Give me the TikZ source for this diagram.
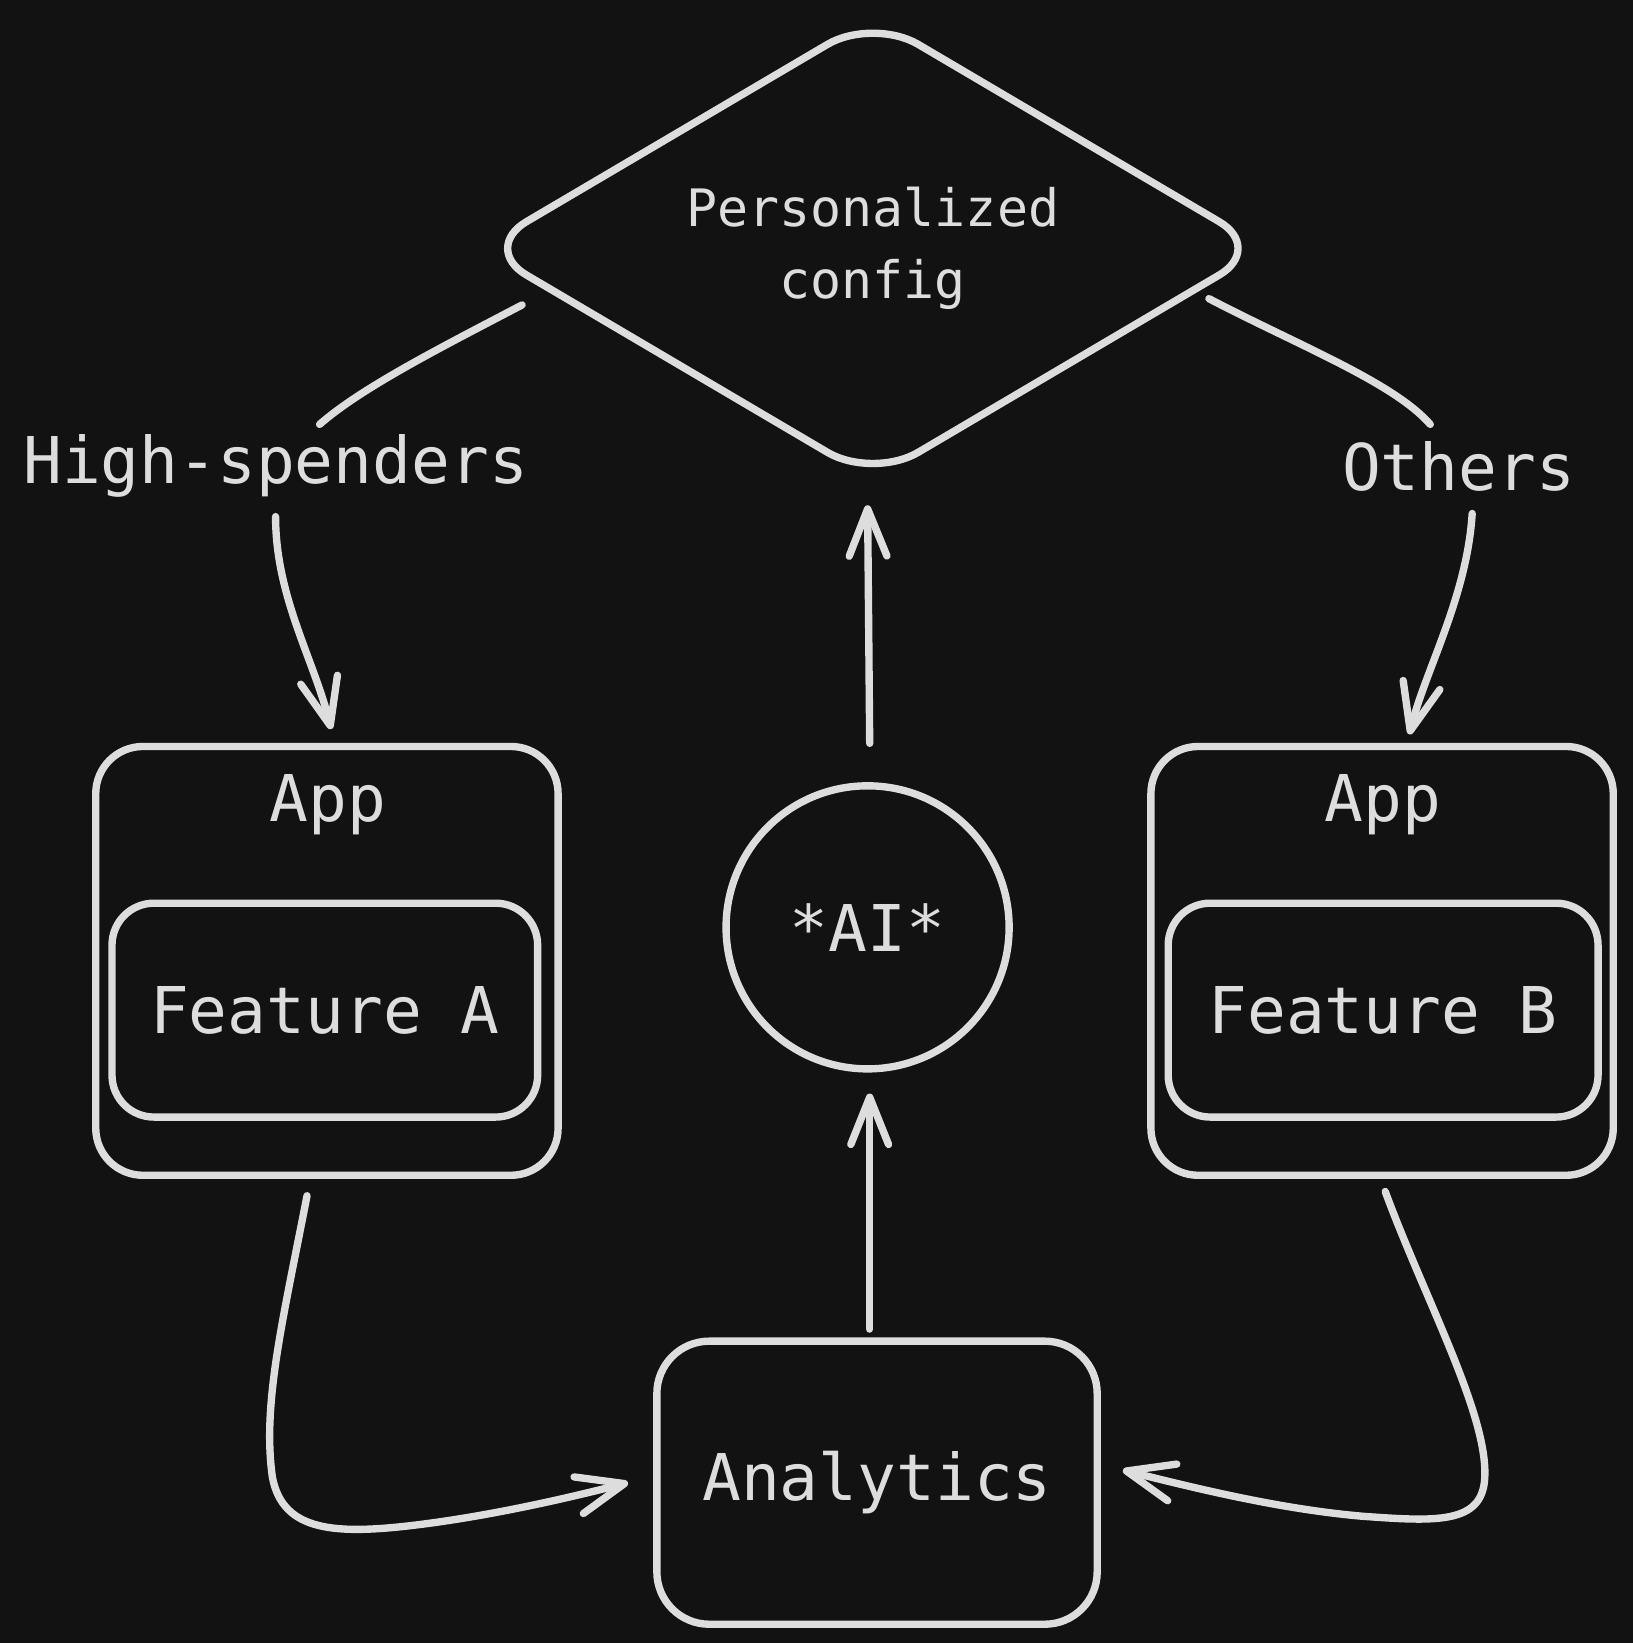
\documentclass[tikz,border=0pt]{standalone}
\usepackage{fontspec}
\usetikzlibrary{shapes.geometric,arrows.meta,calc}
\newfontfamily\handfont{DejaVu Sans Mono}
\definecolor{bg}{HTML}{121212}
\definecolor{ink}{HTML}{DDDDDD}
\tikzset{
  box/.style={draw=ink, line width=2pt, rounded corners=0.45cm},
  txt/.style={text=ink, font=\handfont\fontsize{17.5}{21}\selectfont},
  arr/.style={draw=ink, line width=2pt, line cap=round,
    -{Straight Barb[length=0.45cm,width=0.36cm,round]}},
}
\begin{document}
\begin{tikzpicture}[x=0.01cm, y=-0.01cm]
\fill[bg] (0,0) rectangle (1558,1568);

% decision
\node[draw=ink, line width=2pt, diamond, aspect=1.8, rounded corners=0.5cm,
  minimum width=7.5cm, minimum height=4.43cm, inner sep=0pt, align=center,
  text=ink, font=\handfont\fontsize{14}{19.4}\selectfont] (dia) at (833,237) {Personalized\\config};

% apps
\node[box, minimum width=4.41cm, minimum height=4.09cm] (appA) at (312,917) {};
\node[txt] (appAtxt) at (313,768) {App};
\node[box, rounded corners=0.4cm, minimum width=4.06cm, minimum height=2.04cm, txt] (featA) at (310,964) {Feature A};
\node[box, minimum width=4.41cm, minimum height=4.09cm] (appB) at (1319,917) {};
\node[txt] (appBtxt) at (1320,768) {App};
\node[box, rounded corners=0.4cm, minimum width=4.1cm, minimum height=2.04cm, txt] (featB) at (1320,964) {Feature B};

% ai and analytics
\node[draw=ink, line width=2pt, circle, minimum size=2.7cm, txt] (ai) at (828,885) {*AI*};
\node[box, rounded corners=0.5cm, minimum width=4.2cm, minimum height=2.7cm, txt] (ana) at (837,1415) {Analytics};

% branch labels
\node[txt] (hs) at (263,445) {High-spenders};
\node[txt] (oth) at (1392,445) {Others};

% arrows
\draw[arr] ($(ai.north)+(2,-37)$) -- ($(dia.south)+(-5,20)$);
\draw[arr] ($(ana.north)+(-7,-8)$) -- ($(ai.south)+(2,20)$);
\draw[arr, -] ($(dia.west)+(44,54)$) .. controls (420,332) and (345,370) .. ($(hs.center)+(42,-40)$);
\draw[arr] ($(hs.center)+(0,48)$) .. controls (263,570) and (300,630) .. ($(appA.north)+(4,-13)$);
\draw[arr, -] ($(dia.east)+(-58,48)$) .. controls (1240,330) and (1330,365) .. ($(oth.center)+(-27,-40)$);
\draw[arr] ($(oth.center)+(13,45)$) .. controls (1400,570) and (1360,640) .. ($(appB.north)+(26,-8)$);
\draw[arr] ($(appA.south)+(-19,16)$) .. controls (270,1260) and (250,1340) .. (260,1410)
  .. controls (270,1462) and (320,1465) .. (400,1455) .. controls (480,1445) and (560,1425) .. ($(ana.west)+(-24,0)$);
\draw[arr] ($(appB.south)+(3,12)$) .. controls (1360,1240) and (1420,1350) .. (1417,1410)
  .. controls (1415,1455) and (1370,1452) .. (1300,1447) .. controls (1220,1440) and (1140,1420) .. ($(ana.east)+(21,-12)$);
\end{tikzpicture}
\end{document}
